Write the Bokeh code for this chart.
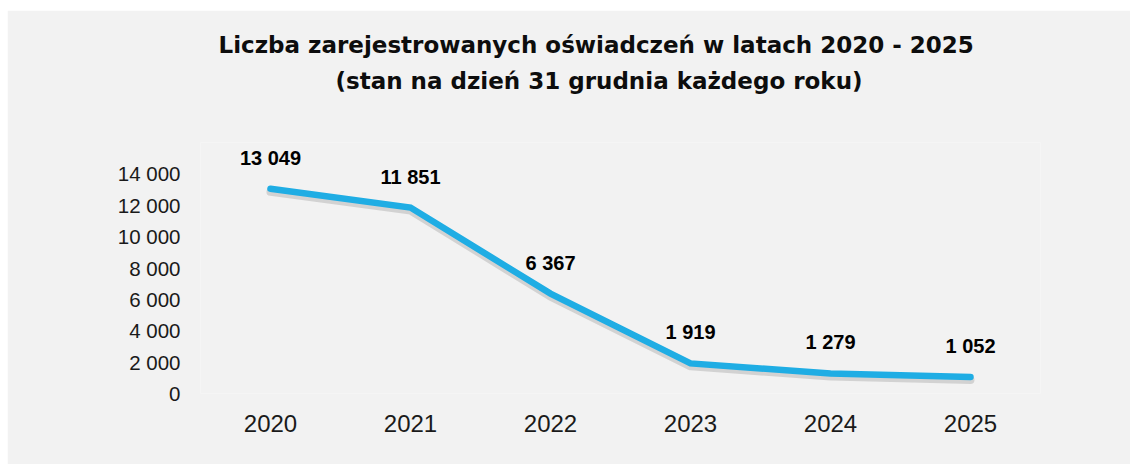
from bokeh.plotting import figure
from bokeh.models import (ColumnDataSource, FactorRange, Range1d, FixedTicker,
                          LabelSet, Title, Spacer)
from bokeh.layouts import row, column
from bokeh.core.properties import value
from bokeh.embed import file_html
from bokeh.resources import INLINE

# ---- data ----
years = ["2020", "2021", "2022", "2023", "2024", "2025"]
counts = [13049, 11851, 6367, 1919, 1279, 1052]
y_ticks = [0, 2000, 4000, 6000, 8000, 10000, 12000, 14000]
y_tick_labels = ["0", "2 000", "4 000", "6 000", "8 000", "10 000", "12 000", "14 000"]
title_line1 = "Liczba zarejestrowanych oświadczeń w latach 2020 - 2025"
title_line2 = "(stan na dzień 31 grudnia każdego roku)"

labels = [f"{v:,}".replace(",", " ") for v in counts]
source = ColumnDataSource(data=dict(x=years, y=counts, label=labels))

BG = "#f2f2f2"
W, H = 1123, 454

p = figure(
    width=W, height=H,
    x_range=FactorRange(*years, range_padding=0),
    y_range=Range1d(0, 16000),
    output_backend="svg", toolbar_location=None,
    background_fill_color=BG, border_fill_color=BG,
    outline_line_color=None,
    min_border_left=193, min_border_right=90,
    min_border_top=132, min_border_bottom=71,
)
p.extra_y_ranges = {"shadow": Range1d(190, 16190)}

# shadow line (offset a few pixels downward)
p.line("x", "y", source=source, y_range_name="shadow", line_color="#000000",
       line_alpha=0.13, line_width=8, line_cap="round", line_join="round")
# main line
p.line("x", "y", source=source, line_color="#1fade4", line_width=6.5,
       line_cap="round", line_join="miter")

# data labels
p.add_layout(LabelSet(x="x", y="y", text="label", source=source,
                      x_offset=0, y_offset=31,
                      text_align="center", text_baseline="middle",
                      text_font=value("Liberation Sans"), text_font_style="bold",
                      text_font_size="20px", text_color="#000000"))

# axes
p.xgrid.visible = False
p.ygrid.visible = False

p.xaxis.axis_line_color = None
p.xaxis.major_tick_line_color = None
p.xaxis.minor_tick_line_color = None
p.xaxis.major_tick_out = 0
p.xaxis.major_label_standoff = 21
p.xaxis.major_label_text_font = "Liberation Sans"
p.xaxis.major_label_text_font_size = "24px"
p.xaxis.major_label_text_color = "#1a1a1a"

p.yaxis.ticker = FixedTicker(ticks=y_ticks)
p.yaxis.major_label_overrides = {t: s for t, s in zip(y_ticks, y_tick_labels)}
p.yaxis.axis_line_color = None
p.yaxis.major_tick_line_color = None
p.yaxis.minor_tick_line_color = None
p.yaxis.major_tick_out = 0
p.yaxis.major_label_standoff = 20
p.yaxis.major_label_text_font = "Liberation Sans"
p.yaxis.major_label_text_font_size = "20.5px"
p.yaxis.major_label_text_color = "#1a1a1a"

# title (two lines): the one added first sits closest to the plot
p.add_layout(Title(text=title_line2, align="left", offset=135, standoff=97,
                   text_font="DejaVu Sans", text_font_style="bold",
                   text_font_size="23px", text_color="#0d0d0d"), "above")
p.add_layout(Title(text=title_line1, align="left", offset=18, standoff=-81,
                   text_font="DejaVu Sans", text_font_style="bold",
                   text_font_size="23px", text_color="#0d0d0d"), "above")

layout = column(Spacer(height=10),
                row(Spacer(width=7), p, spacing=0),
                spacing=0)

open("out.html", "w").write(file_html(layout, INLINE))
